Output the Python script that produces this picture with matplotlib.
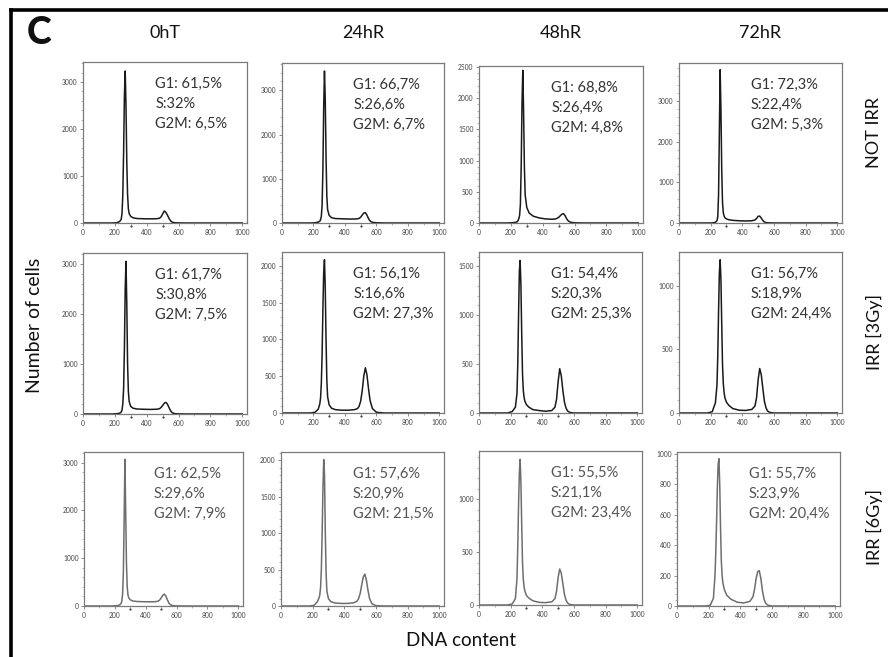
import matplotlib
matplotlib.use('Agg')
import matplotlib.pyplot as plt
from matplotlib.ticker import MultipleLocator, AutoMinorLocator
from matplotlib.lines import Line2D
import matplotlib.transforms as mtransforms

plt.rcParams['font.family'] = ['Lato', 'DejaVu Sans']

# ---------------- data ----------------
timepoints = ['0hT', '24hR', '48hR', '72hR']
conditions = ['NOT IRR', 'IRR [3Gy]', 'IRR [6Gy]']

# DNA content channel (x) sampled positions
dna_grid = [0, 180, 210, 230, 240, 245, 250, 255, 260, 265, 270, 275, 280, 285, 290,
            300, 315, 340, 380, 420, 460, 480, 490, 500, 510, 520, 530, 540, 550, 560,
            575, 600, 650, 1000]

# Number of cells (row: condition, col: time point)
notirr_0h  = [0, 0, 5, 30, 80, 200, 600, 1500, 2700, 3234, 2500, 1300, 600, 300, 200,
              140, 110, 95, 90, 88, 90, 100, 130, 190, 255, 230, 170, 100, 45, 18, 6, 2, 0, 0]
notirr_24h = [0, 0, 5, 20, 40, 70, 150, 400, 1200, 2600, 3437, 2800, 1500, 600, 300,
              170, 120, 100, 95, 90, 90, 95, 105, 130, 180, 225, 234, 180, 100, 45, 15, 5, 0, 0]
notirr_48h = [0, 0, 5, 10, 20, 40, 70, 120, 300, 900, 1900, 2447, 1800, 900, 450,
              250, 160, 110, 80, 65, 60, 65, 75, 90, 115, 140, 150, 120, 70, 35, 12, 3, 0, 0]
notirr_72h = [0, 0, 3, 15, 60, 150, 700, 2200, 3764, 2800, 1300, 500, 250, 170, 130,
              100, 80, 65, 55, 50, 55, 75, 110, 165, 170, 120, 60, 25, 10, 5, 2, 0, 0, 0]
irr3_0h    = [0, 0, 5, 15, 40, 80, 200, 500, 1300, 2500, 3061, 2200, 1000, 450, 250,
              150, 115, 100, 95, 92, 95, 105, 130, 170, 215, 234, 200, 130, 65, 25, 8, 2, 0, 0]
irr3_24h   = [0, 0, 10, 50, 120, 200, 400, 800, 1400, 1900, 2082, 1700, 1000, 450, 220,
              110, 65, 45, 38, 38, 45, 60, 90, 160, 300, 500, 614, 520, 330, 170, 60, 10, 0, 0]
irr3_48h   = [0, 0, 15, 60, 200, 500, 1000, 1450, 1561, 1300, 800, 400, 230, 160, 120,
              85, 60, 35, 25, 18, 25, 60, 140, 320, 453, 380, 230, 110, 50, 20, 5, 0, 0, 0]
irr3_72h   = [0, 0, 10, 80, 220, 450, 800, 1100, 1205, 1050, 700, 380, 230, 160, 120,
              85, 60, 35, 22, 20, 28, 55, 120, 260, 350, 300, 190, 90, 40, 15, 4, 0, 0, 0]
irr6_0h    = [0, 0, 5, 20, 50, 100, 250, 700, 1800, 3070, 2000, 900, 400, 230, 170,
              130, 105, 95, 90, 88, 90, 100, 125, 170, 220, 250, 210, 130, 60, 25, 8, 2, 0, 0]
irr6_24h   = [0, 0, 10, 60, 110, 150, 250, 500, 1000, 1600, 2009, 1800, 1000, 450, 200,
              100, 60, 42, 35, 35, 45, 65, 100, 170, 290, 400, 438, 350, 210, 100, 30, 5, 0, 0]
irr6_48h   = [0, 0, 10, 60, 250, 550, 950, 1250, 1377, 1150, 750, 400, 240, 170, 130,
              90, 65, 40, 25, 22, 30, 60, 130, 260, 340, 300, 200, 100, 45, 18, 5, 0, 0, 0]
irr6_72h   = [0, 0, 5, 50, 200, 350, 550, 780, 930, 967, 800, 520, 300, 200, 150,
              105, 70, 45, 25, 20, 30, 60, 110, 180, 225, 232, 180, 100, 45, 18, 5, 0, 0, 0]

counts = [[notirr_0h, notirr_24h, notirr_48h, notirr_72h],
          [irr3_0h, irr3_24h, irr3_48h, irr3_72h],
          [irr6_0h, irr6_24h, irr6_48h, irr6_72h]]

g1_labels  = [['G1: 61,5%', 'G1: 66,7%', 'G1: 68,8%', 'G1: 72,3%'],
              ['G1: 61,7%', 'G1: 56,1%', 'G1: 54,4%', 'G1: 56,7%'],
              ['G1: 62,5%', 'G1: 57,6%', 'G1: 55,5%', 'G1: 55,7%']]
s_labels   = [['S:32%', 'S:26,6%', 'S:26,4%', 'S:22,4%'],
              ['S:30,8%', 'S:16,6%', 'S:20,3%', 'S:18,9%'],
              ['S:29,6%', 'S:20,9%', 'S:21,1%', 'S:23,9%']]
g2m_labels = [['G2M: 6,5%', 'G2M: 6,7%', 'G2M: 4,8%', 'G2M: 5,3%'],
              ['G2M: 7,5%', 'G2M: 27,3%', 'G2M: 25,3%', 'G2M: 24,4%'],
              ['G2M: 7,9%', 'G2M: 21,5%', 'G2M: 23,4%', 'G2M: 20,4%']]

y_top  = [[3425, 3618, 2516, 3928],
          [3228, 2186, 1647, 1266],
          [3223, 2114, 1456, 1011]]
y_step = [[1000, 1000, 500, 1000],
          [1000, 500, 500, 500],
          [1000, 500, 500, 200]]
gate_x = [300, 500]

# ---------------- layout ----------------
W, H = 888, 657
fig = plt.figure(figsize=(W / 100, H / 100), dpi=100)
fig.patch.set_facecolor('white')

# axes boxes in pixels: (left, top, right, bottom)
boxes = [[(83, 62, 247, 223), (282, 63, 444, 223), (479, 66, 643, 223), (679, 63, 842, 223)],
         [(83, 253, 247, 414), (282, 252, 444, 413), (479, 252, 642, 413), (679, 252, 842, 413)],
         [(84, 452, 243, 606), (281, 452, 444, 606), (479, 451, 642, 605), (677, 452, 840, 606)]]

spine_col = '#7a7a7a'
tick_col = '#444444'
line_cols = ['#1a1a1a', '#1a1a1a', '#6e6e6e']
text_cols = ['#333333', '#333333', '#555555']

for r in range(3):
    for c in range(4):
        l, t, rr, b = boxes[r][c]
        ax = fig.add_axes([l / W, 1 - b / H, (rr - l) / W, (b - t) / H])
        ax.plot(dna_grid, counts[r][c], color=line_cols[r], lw=1.1, solid_joinstyle='round')
        ax.set_xlim(0, 1030)
        ax.set_ylim(0, y_top[r][c])
        ax.xaxis.set_major_locator(MultipleLocator(200))
        ax.xaxis.set_minor_locator(MultipleLocator(100))
        ax.yaxis.set_major_locator(MultipleLocator(y_step[r][c]))
        ax.yaxis.set_minor_locator(AutoMinorLocator(5))
        ax.set_xticks([0, 200, 400, 600, 800, 1000])
        for s in ax.spines.values():
            s.set_color(spine_col)
            s.set_linewidth(0.9)
        ax.tick_params(which='major', direction='out', length=2.5, width=0.6,
                       color=spine_col, labelsize=4.8, labelcolor=tick_col, pad=1.5)
        ax.tick_params(which='minor', direction='out', length=1.3, width=0.4,
                       color=spine_col)
        # gate markers
        trans = mtransforms.blended_transform_factory(ax.transData, ax.transAxes)
        ax.plot(gate_x, [-0.02, -0.02], ls='none', marker='s', ms=0.6,
                color='#444444', transform=trans, clip_on=False)
        # statistics
        lh = 20 / (b - t)
        y0 = 1 - 15 / (b - t)
        for k, txt in enumerate([g1_labels[r][c], s_labels[r][c], g2m_labels[r][c]]):
            ax.text(0.44, y0 - k * lh, txt, transform=ax.transAxes, ha='left', va='top',
                    fontsize=10.5, color=text_cols[r])

# column titles
for c, name in enumerate(timepoints):
    l, t, rr, b = boxes[0][c]
    fig.text(((l + rr) / 2) / W, 1 - 33 / H, name, ha='center', va='center',
             fontsize=13, color='#111111')

# row labels
row_y = [133, 332, 527]
for r, name in enumerate(conditions):
    fig.text(874 / W, 1 - row_y[r] / H, name, rotation=90, ha='center', va='center',
             fontsize=13, color='#111111')

fig.text(35 / W, 1 - 325 / H, 'Number of cells', rotation=90, ha='center', va='center',
         fontsize=14, color='#111111')
fig.text(461 / W, 1 - 640 / H, 'DNA content', ha='center', va='center',
         fontsize=13.5, color='#111111')
fig.text(39 / W, 1 - 33 / H, 'C', ha='center', va='center', fontsize=27,
         fontweight='black', color='#111111')

# panel frame (left and top edges)
fig.add_artist(Line2D([11 / W, 11 / W], [0, 1 - 10 / H], color='black', lw=2.6,
                      transform=fig.transFigure))
fig.add_artist(Line2D([11 / W, 1], [1 - 10 / H, 1 - 10 / H], color='black', lw=2.6,
                      transform=fig.transFigure))

fig.savefig('out.png', dpi=100, facecolor='white')
